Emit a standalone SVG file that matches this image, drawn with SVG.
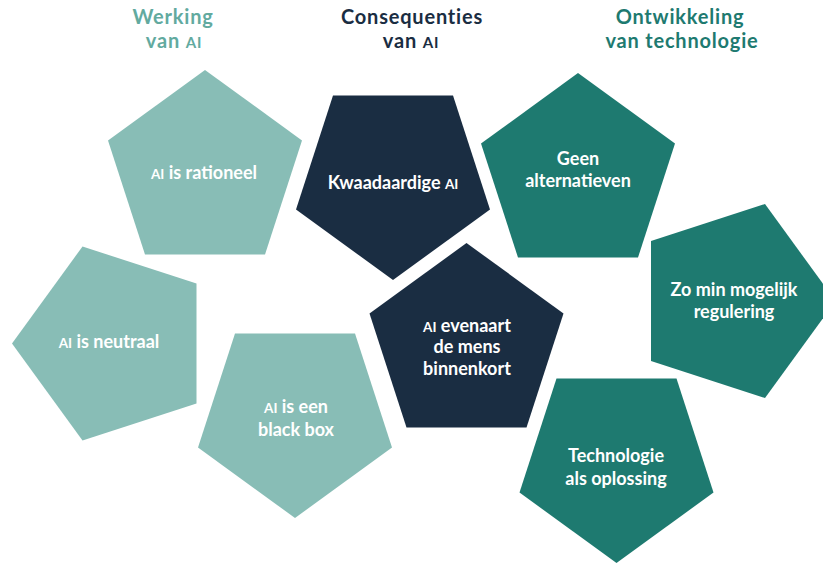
<svg xmlns="http://www.w3.org/2000/svg" width="823" height="563" viewBox="0 0 823 563">
  <style>
    .light { fill: #88bdb6; }
    .navy { fill: #1a2d42; }
    .teal { fill: #1e7a70; }
    .lbl { font-family: Lato, "Open Sans", sans-serif; font-weight: 700; font-size: 18px; fill: #ffffff; text-anchor: middle; }
    .head { font-family: Lato, "Open Sans", sans-serif; font-weight: 700; font-size: 20px; letter-spacing: 0.8px; text-anchor: middle; }
    .sc { font-size: 13.5px; }
    .hsc { font-size: 15px; }
  </style>
  <defs>
    <!-- regular pentagon, circumradius 102, point up -->
    <polygon id="penta" points="0,-102 97,-31.5 60,82.5 -60,82.5 -97,-31.5"/>
  </defs>
  <rect width="823" height="563" fill="#ffffff"/>

  <!-- column headings -->
  <g id="heading-werking" fill="#62aa9f">
    <text class="head" x="173" y="24">Werking</text>
    <text class="head" x="174" y="48">van <tspan class="hsc">AI</tspan></text>
  </g>
  <g id="heading-consequenties" fill="#1a2d42">
    <text class="head" x="412" y="24">Consequenties</text>
    <text class="head" x="411" y="48">van <tspan class="hsc">AI</tspan></text>
  </g>
  <g id="heading-ontwikkeling" fill="#1e7a70">
    <text class="head" x="680" y="24">Ontwikkeling</text>
    <text class="head" x="682" y="48">van technologie</text>
  </g>

  <!-- connectors: none drawn -->
  <g id="connectors"/>

  <g id="node-rationeel">
    <use href="#penta" class="light" transform="translate(205,172)"/>
    <text class="lbl" x="204" y="179"><tspan class="sc">AI</tspan> is rationeel</text>
  </g>

  <g id="node-neutraal">
    <use href="#penta" class="light" transform="translate(114,343.5) rotate(-90)"/>
    <text class="lbl" x="109" y="348"><tspan class="sc">AI</tspan> is neutraal</text>
  </g>

  <g id="node-blackbox">
    <use href="#penta" class="light" transform="translate(295,416) rotate(180)"/>
    <text class="lbl" x="296" y="413"><tspan class="sc">AI</tspan> is een</text>
    <text class="lbl" x="296" y="436">black box</text>
  </g>

  <g id="node-kwaadaardig">
    <use href="#penta" class="navy" transform="translate(393,178) rotate(180)"/>
    <text class="lbl" x="393" y="189">Kwaadaardige <tspan class="sc">AI</tspan></text>
  </g>

  <g id="node-evenaart">
    <use href="#penta" class="navy" transform="translate(466.5,345)"/>
    <text class="lbl" x="467" y="332"><tspan class="sc">AI</tspan> evenaart</text>
    <text class="lbl" x="467" y="353">de mens</text>
    <text class="lbl" x="467" y="375">binnenkort</text>
  </g>

  <g id="node-alternatieven">
    <use href="#penta" class="teal" transform="translate(578,175)"/>
    <text class="lbl" x="578" y="165">Geen</text>
    <text class="lbl" x="578" y="187">alternatieven</text>
  </g>

  <g id="node-regulering">
    <use href="#penta" class="teal" transform="translate(733.5,301) rotate(90)"/>
    <text class="lbl" x="734" y="296">Zo min mogelijk</text>
    <text class="lbl" x="734" y="318">regulering</text>
  </g>

  <g id="node-oplossing">
    <use href="#penta" class="teal" transform="translate(616.5,461) rotate(180)"/>
    <text class="lbl" x="616" y="462">Technologie</text>
    <text class="lbl" x="616" y="485">als oplossing</text>
  </g>
</svg>
